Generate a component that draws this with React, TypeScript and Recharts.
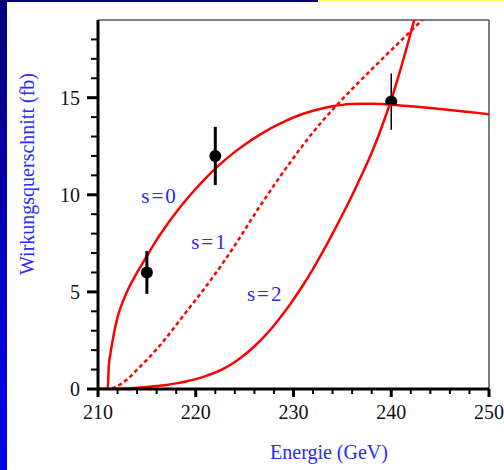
import { ComposedChart, Line, Scatter, ErrorBar, XAxis, YAxis, ReferenceLine, ReferenceDot } from 'recharts'

// curve s=0 (solid)
const energyS0 = [210, 211, 211.1, 211.25, 211.5, 211.75, 212, 212.5, 213, 214, 215, 216, 217, 218, 219, 220, 221, 222, 223, 224, 225, 226, 227, 228, 229, 230, 231, 232, 233, 234, 235, 236, 237, 238, 239, 240, 242, 244, 246, 248, 250]
const sigmaS0 = [0, 0, 1.15, 1.75, 2.5, 3.15, 3.7, 4.45, 5.05, 6.0, 6.85, 7.68, 8.42, 9.1, 9.73, 10.31, 10.85, 11.35, 11.8, 12.21, 12.58, 12.92, 13.23, 13.51, 13.76, 13.98, 14.17, 14.33, 14.46, 14.56, 14.63, 14.67, 14.69, 14.69, 14.67, 14.64, 14.56, 14.47, 14.37, 14.26, 14.15]

// curve s=1 (dashed)
const energyS1 = [210, 211, 212, 213, 214, 215, 216, 217, 218, 219, 220, 221, 222, 223, 224, 225, 226, 227, 228, 229, 230, 231, 232, 233, 234, 235, 236, 237, 238, 239, 240, 241, 242, 243, 244]
const sigmaS1 = [0, 0, 0.15, 0.5, 1.0, 1.5, 2.05, 2.65, 3.3, 3.95, 4.6, 5.25, 5.93, 6.65, 7.4, 8.18, 8.98, 9.74, 10.48, 11.2, 11.9, 12.58, 13.22, 13.82, 14.38, 14.92, 15.45, 15.96, 16.46, 16.96, 17.45, 17.94, 18.43, 18.92, 19.4]

// curve s=2 (solid)
const energyS2 = [210, 211, 213, 215, 216, 217, 218, 219, 220, 221, 222, 223, 224, 225, 226, 227, 228, 229, 230, 231, 232, 233, 234, 235, 236, 237, 238, 239, 240, 241, 242, 243]
const sigmaS2 = [0, 0, 0.03, 0.1, 0.15, 0.21, 0.29, 0.39, 0.51, 0.66, 0.85, 1.09, 1.39, 1.76, 2.2, 2.7, 3.27, 3.91, 4.61, 5.37, 6.19, 7.07, 8.0, 8.97, 9.98, 11.04, 12.16, 13.45, 14.9, 16.55, 18.35, 20.2]

// measurements
const measEnergy = [215, 222]
const measSigma = [6, 12]
const measErr = [1.1, 1.5]
const lastEnergy = [240]
const lastSigma = [14.8]
const lastErr = [1.45]

const xTicks = [210, 212, 214, 216, 218, 220, 222, 224, 226, 228, 230, 232, 234, 236, 238, 240, 242, 244, 246, 248, 250]
const yTicks = [0, 1, 2, 3, 4, 5, 6, 7, 8, 9, 10, 11, 12, 13, 14, 15, 16, 17, 18]

const toPoints = (xs: number[], ys: number[]) => xs.map((x, i) => ({ x, y: ys[i] }))
const s0 = toPoints(energyS0, sigmaS0)
const s1 = toPoints(energyS1, sigmaS1)
const s2 = toPoints(energyS2, sigmaS2)
const meas = measEnergy.map((x, i) => ({ x, y: measSigma[i], err: measErr[i] }))
const last = lastEnergy.map((x, i) => ({ x, y: lastSigma[i], err: lastErr[i] }))

const serif = '"Liberation Serif", "Times New Roman", serif'
const blue = '#2a2aff'
const red = '#ff0000'

function XTick(props: any) {
  const { x, y, payload } = props
  const major = payload.value % 10 === 0
  return (
    <g>
      <line x1={x} x2={x} y1={y} y2={y + (major ? 8 : 5)} stroke="#000" strokeWidth={major ? 3 : 2} />
      {major && (
        <text x={x} y={y + 30} textAnchor="middle" fontFamily={serif} fontSize={20} fill="#111">
          {payload.value}
        </text>
      )}
    </g>
  )
}

function YTick(props: any) {
  const { x, y, payload } = props
  const major = payload.value % 5 === 0
  return (
    <g>
      <line x1={x - (major ? 11 : 7)} x2={x} y1={y} y2={y} stroke="#000" strokeWidth={major ? 3 : 2} />
      {major && (
        <text x={x - 18} y={y + 7} textAnchor="end" fontFamily={serif} fontSize={20} fill="#111">
          {payload.value}
        </text>
      )}
    </g>
  )
}

const curveLabel = (text: string) => (props: any) => {
  const { viewBox } = props
  const cx = viewBox.x + viewBox.width / 2
  const cy = viewBox.y + viewBox.height / 2
  return (
    <text x={cx} y={cy + 7} textAnchor="middle" fontFamily={serif} fontSize={21} letterSpacing={2} fill={blue}>
      {text}
    </text>
  )
}

function Dot(props: any) {
  return <circle cx={props.cx} cy={props.cy} r={6} fill="#000" />
}

function HalfDot(props: any) {
  const { cx, cy } = props
  return <path d={`M${cx - 5.2},${cy + 3} A6,6 0 1 1 ${cx + 5.2},${cy + 3} Z`} fill="#000" />
}

export default function App() {
  return (
    <div style={{ position: 'absolute', left: 0, top: 0, width: 504, height: 470, background: '#fff', overflow: 'hidden' }}>
      <div style={{ position: 'absolute', left: 0, top: 0, width: 7, height: 470, background: 'linear-gradient(#00007a, #0000f5)' }} />
      <div style={{ position: 'absolute', left: 0, top: 0, width: 318, height: 2, background: '#00007a' }} />
      <div style={{ position: 'absolute', left: 318, top: 0, width: 186, height: 2, background: '#ffff66' }} />
      <div style={{ position: 'absolute', left: 0, top: 0 }}>
        <ComposedChart width={504} height={470} margin={{ top: 20, right: 15, bottom: 31, left: 38 }}>
          <XAxis
            type="number"
            dataKey="x"
            domain={[210, 250]}
            ticks={xTicks}
            interval={0}
            height={50}
            tick={<XTick />}
            tickLine={false}
            tickSize={0}
            tickMargin={0}
            axisLine={{ stroke: '#000', strokeWidth: 3 }}
          />
          <YAxis
            type="number"
            dataKey="y"
            domain={[0, 19]}
            allowDataOverflow
            ticks={yTicks}
            interval={0}
            width={60}
            tick={<YTick />}
            tickLine={false}
            tickSize={0}
            tickMargin={0}
            axisLine={{ stroke: '#000', strokeWidth: 3 }}
          />
          <ReferenceLine y={19} stroke="#555" strokeWidth={1.5} />
          <ReferenceLine x={250} stroke="#555" strokeWidth={1.5} />
          <Scatter data={last} dataKey="y" shape={<HalfDot />} isAnimationActive={false}>
            <ErrorBar dataKey="err" direction="y" width={0} stroke="#000" strokeWidth={1.5} />
          </Scatter>
          <Line data={s0} dataKey="y" type="monotone" stroke={red} strokeWidth={2.5} dot={false} isAnimationActive={false} />
          <Line data={s1} dataKey="y" type="monotone" stroke={red} strokeWidth={2.5} strokeDasharray="4 3" dot={false} isAnimationActive={false} />
          <Line data={s2} dataKey="y" type="monotone" stroke={red} strokeWidth={2.5} dot={false} isAnimationActive={false} />
          <Scatter data={meas} dataKey="y" shape={<Dot />} isAnimationActive={false}>
            <ErrorBar dataKey="err" direction="y" width={0} stroke="#000" strokeWidth={3} />
          </Scatter>
          <ReferenceDot x={216.3} y={9.96} r={0} fill="none" stroke="none" label={curveLabel('s=0')} />
          <ReferenceDot x={221.4} y={7.55} r={0} fill="none" stroke="none" label={curveLabel('s=1')} />
          <ReferenceDot x={227.1} y={4.88} r={0} fill="none" stroke="none" label={curveLabel('s=2')} />
          <text x={27} y={174} transform="rotate(-90 27 174)" textAnchor="middle" dominantBaseline="central" fontFamily={serif} fontSize={20} fill={blue}>
            Wirkungsquerschnitt (fb)
          </text>
          <text x={329} y={459} textAnchor="middle" fontFamily={serif} fontSize={20} fill={blue}>
            Energie (GeV)
          </text>
        </ComposedChart>
      </div>
    </div>
  )
}
